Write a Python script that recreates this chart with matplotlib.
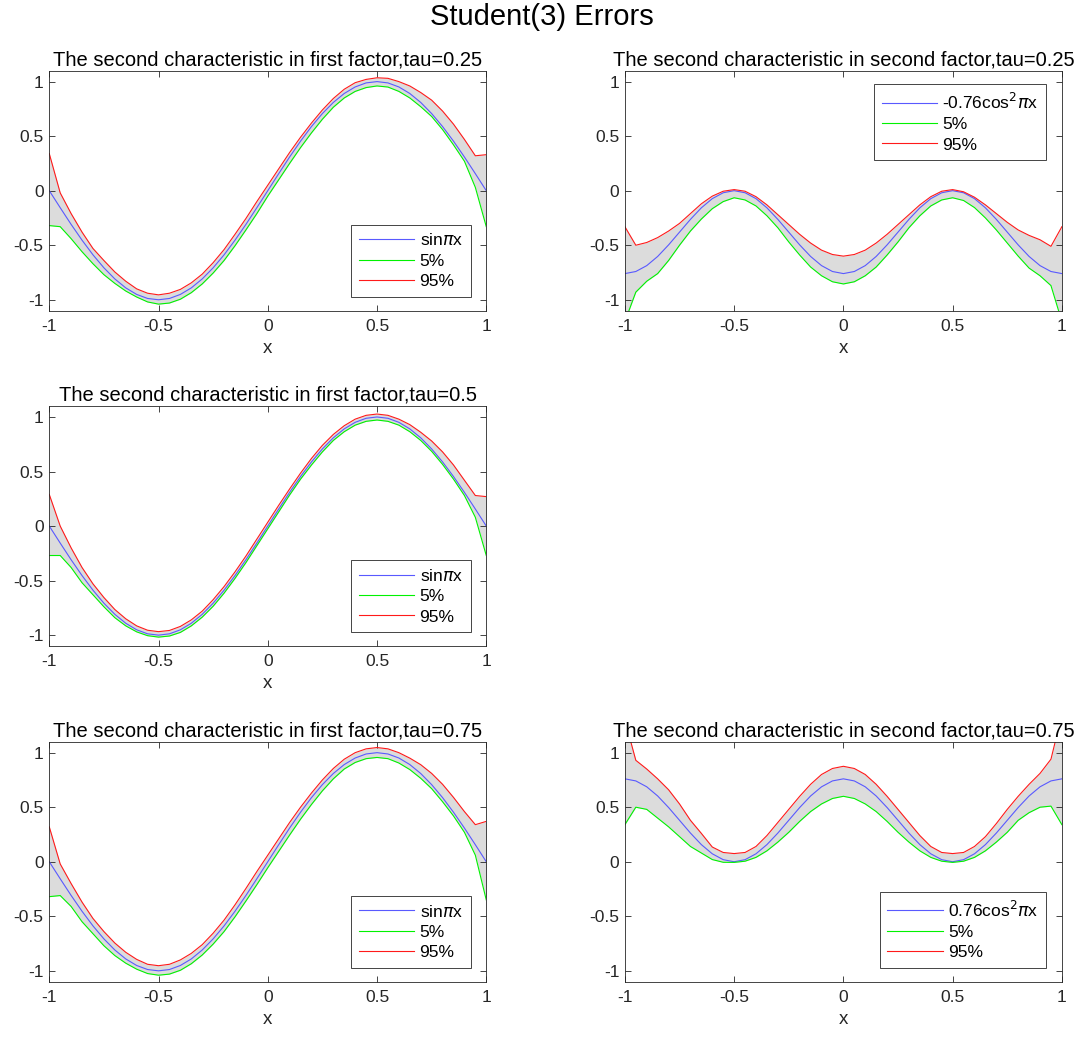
import matplotlib.pyplot as plt
import numpy as np

plt.rcParams['font.family'] = ['Liberation Sans', 'DejaVu Sans']
plt.rcParams['mathtext.fontset'] = 'dejavusans'

# grid of x values (step 0.05)
x = np.linspace(-1, 1, 41)

# first factor: true curve sin(pi x)
sin_true = [0, -0.156, -0.309, -0.454, -0.588, -0.707, -0.809, -0.891, -0.951, -0.988,
            -1.0, -0.988, -0.951, -0.891, -0.809, -0.707, -0.588, -0.454, -0.309, -0.156,
            0, 0.156, 0.309, 0.454, 0.588, 0.707, 0.809, 0.891, 0.951, 0.988,
            1.0, 0.988, 0.951, 0.891, 0.809, 0.707, 0.588, 0.454, 0.309, 0.156, 0]

# tau = 0.25, first factor
f1_q05 = [-0.32, -0.33, -0.44, -0.56, -0.67, -0.77, -0.85, -0.92, -0.975, -1.02,
          -1.04, -1.03, -0.995, -0.935, -0.855, -0.755, -0.64, -0.505, -0.36, -0.21,
          -0.05, 0.10, 0.25, 0.395, 0.53, 0.655, 0.765, 0.85, 0.91, 0.945,
          0.96, 0.95, 0.91, 0.85, 0.77, 0.68, 0.56, 0.42, 0.27, 0.03, -0.33]
f1_q95 = [0.34, -0.02, -0.21, -0.38, -0.53, -0.64, -0.745, -0.83, -0.90, -0.94,
          -0.955, -0.94, -0.905, -0.845, -0.765, -0.66, -0.54, -0.40, -0.255, -0.10,
          0.05, 0.20, 0.35, 0.49, 0.62, 0.74, 0.845, 0.93, 0.99, 1.02,
          1.035, 1.03, 1.0, 0.96, 0.9, 0.83, 0.73, 0.61, 0.47, 0.32, 0.33]

# tau = 0.5, first factor
f3_q05 = [-0.27, -0.27, -0.38, -0.52, -0.63, -0.74, -0.84, -0.915, -0.97, -1.005,
          -1.018, -1.008, -0.975, -0.915, -0.835, -0.735, -0.615, -0.48, -0.335, -0.18,
          -0.025, 0.13, 0.285, 0.43, 0.56, 0.68, 0.785, 0.865, 0.925, 0.96,
          0.972, 0.96, 0.925, 0.865, 0.785, 0.685, 0.565, 0.43, 0.28, 0.08, -0.27]
f3_q95 = [0.29, 0.0, -0.2, -0.38, -0.53, -0.655, -0.765, -0.85, -0.915, -0.955,
          -0.968, -0.957, -0.92, -0.86, -0.78, -0.675, -0.555, -0.42, -0.275, -0.12,
          0.035, 0.19, 0.34, 0.485, 0.62, 0.74, 0.84, 0.92, 0.98, 1.015,
          1.027, 1.015, 0.98, 0.93, 0.86, 0.78, 0.68, 0.56, 0.42, 0.28, 0.27]

# tau = 0.75, first factor
f5_q05 = [-0.32, -0.31, -0.41, -0.55, -0.66, -0.77, -0.86, -0.93, -0.985, -1.025,
          -1.04, -1.03, -0.995, -0.935, -0.855, -0.755, -0.64, -0.505, -0.36, -0.21,
          -0.055, 0.095, 0.245, 0.39, 0.525, 0.65, 0.76, 0.85, 0.91, 0.945,
          0.956, 0.945, 0.905, 0.845, 0.765, 0.67, 0.55, 0.42, 0.27, 0.06, -0.35]
f5_q95 = [0.32, -0.02, -0.2, -0.37, -0.52, -0.64, -0.745, -0.83, -0.895, -0.94,
          -0.953, -0.94, -0.9, -0.84, -0.76, -0.655, -0.535, -0.395, -0.245, -0.09,
          0.06, 0.21, 0.36, 0.5, 0.63, 0.75, 0.855, 0.94, 1.0, 1.035,
          1.047, 1.035, 1.0, 0.95, 0.89, 0.81, 0.71, 0.59, 0.46, 0.34, 0.37]

# second factor: true curves -0.76cos^2(pi x) and 0.76cos^2(pi x)
cos_neg = [-0.76, -0.741, -0.687, -0.603, -0.497, -0.38, -0.263, -0.157, -0.073, -0.019,
           0, -0.019, -0.073, -0.157, -0.263, -0.38, -0.497, -0.603, -0.687, -0.741,
           -0.76, -0.741, -0.687, -0.603, -0.497, -0.38, -0.263, -0.157, -0.073, -0.019,
           0, -0.019, -0.073, -0.157, -0.263, -0.38, -0.497, -0.603, -0.687, -0.741, -0.76]
cos_pos = [0.76, 0.741, 0.687, 0.603, 0.497, 0.38, 0.263, 0.157, 0.073, 0.019,
           0, 0.019, 0.073, 0.157, 0.263, 0.38, 0.497, 0.603, 0.687, 0.741,
           0.76, 0.741, 0.687, 0.603, 0.497, 0.38, 0.263, 0.157, 0.073, 0.019,
           0, 0.019, 0.073, 0.157, 0.263, 0.38, 0.497, 0.603, 0.687, 0.741, 0.76]

# tau = 0.25, second factor
f2_q05 = [-1.2, -0.93, -0.83, -0.76, -0.64, -0.50, -0.37, -0.26, -0.165, -0.10,
          -0.065, -0.085, -0.14, -0.23, -0.34, -0.47, -0.59, -0.70, -0.78, -0.835,
          -0.855, -0.835, -0.78, -0.70, -0.59, -0.47, -0.34, -0.23, -0.14, -0.085,
          -0.065, -0.09, -0.155, -0.25, -0.36, -0.48, -0.60, -0.71, -0.78, -0.87, -1.2]
f2_q95 = [-0.33, -0.50, -0.475, -0.43, -0.37, -0.30, -0.21, -0.12, -0.05, -0.005,
          0.01, -0.005, -0.055, -0.13, -0.22, -0.31, -0.40, -0.48, -0.545, -0.585,
          -0.60, -0.585, -0.545, -0.48, -0.40, -0.31, -0.22, -0.13, -0.055, -0.005,
          0.01, -0.01, -0.06, -0.13, -0.21, -0.29, -0.36, -0.41, -0.45, -0.51, -0.33]

# tau = 0.75, second factor
f6_q05 = [0.34, 0.50, 0.48, 0.40, 0.32, 0.23, 0.14, 0.08, 0.02, -0.005,
          -0.006, 0.005, 0.04, 0.10, 0.18, 0.27, 0.37, 0.46, 0.53, 0.58,
          0.60, 0.58, 0.53, 0.46, 0.37, 0.27, 0.18, 0.10, 0.04, 0.005,
          -0.006, 0.005, 0.04, 0.10, 0.18, 0.27, 0.38, 0.45, 0.50, 0.51, 0.34]
f6_q95 = [1.3, 0.93, 0.85, 0.76, 0.66, 0.53, 0.38, 0.26, 0.135, 0.085,
          0.075, 0.085, 0.14, 0.24, 0.36, 0.48, 0.60, 0.71, 0.80, 0.855,
          0.875, 0.855, 0.80, 0.71, 0.60, 0.48, 0.36, 0.24, 0.14, 0.085,
          0.075, 0.085, 0.14, 0.23, 0.35, 0.48, 0.60, 0.71, 0.81, 0.94, 1.35]

titles = ['The second characteristic in first factor,tau=0.25',
          'The second characteristic in second factor,tau=0.25',
          'The second characteristic in first factor,tau=0.5',
          'The second characteristic in first factor,tau=0.75',
          'The second characteristic in second factor,tau=0.75']
labels = [r'sin$\pi$x', r'-0.76cos$^2$$\pi$x', r'sin$\pi$x', r'sin$\pi$x',
          r'0.76cos$^2$$\pi$x']

axc = (0.15, 0.15, 0.15)
fig = plt.figure(figsize=(10.83, 10.38), dpi=100)
fig.suptitle('Student(3) Errors', fontsize=21, y=0.984, va='center')

W, H = 0.4035, 0.2312
left_x, right_x = 0.0455, 0.577
rows = [0.7007, 0.3776, 0.0542]

panels = [
    (left_x, rows[0], sin_true, f1_q05, f1_q95, titles[0], labels[0], 'lower right'),
    (right_x, rows[0], cos_neg, f2_q05, f2_q95, titles[1], labels[1], 'upper right'),
    (left_x, rows[1], sin_true, f3_q05, f3_q95, titles[2], labels[2], 'lower right'),
    (left_x, rows[2], sin_true, f5_q05, f5_q95, titles[3], labels[3], 'lower right'),
    (right_x, rows[2], cos_pos, f6_q05, f6_q95, titles[4], labels[4], 'lower right'),
]

for (lx, by, true, lo, hi, title, lab, loc) in panels:
    ax = fig.add_axes([lx, by, W, H])
    ax.fill_between(x, lo, hi, color='#dcdcdc', linewidth=0)
    ax.plot(x, true, color=(0.35, 0.35, 1.0), lw=0.8, label=lab)
    ax.plot(x, lo, color=(0.0, 0.95, 0.0), lw=0.8, label='5%')
    ax.plot(x, hi, color=(1.0, 0.1, 0.1), lw=0.8, label='95%')
    ax.set_xlim(-1, 1)
    ax.set_ylim(-1.1, 1.1)
    ax.set_xticks([-1, -0.5, 0, 0.5, 1])
    ax.set_xticklabels(['-1', '-0.5', '0', '0.5', '1'])
    ax.set_yticks([-1, -0.5, 0, 0.5, 1])
    ax.set_yticklabels(['-1', '-0.5', '0', '0.5', '1'])
    ax.tick_params(direction='in', length=4, width=0.6, top=True, right=True,
                   labelsize=12.5, colors=axc)
    ax.tick_params(axis='x', pad=6)
    ax.tick_params(axis='y', pad=4)
    for s in ax.spines.values():
        s.set_color(axc)
        s.set_linewidth(0.6)
    ax.set_title(title, fontsize=14.5, pad=4)
    ax.set_xlabel('x', fontsize=13.5, color=axc, labelpad=4)
    if loc == 'upper right':
        anchor = (0.964, 0.945)
    else:
        anchor = (0.964, 0.057)
    leg = ax.legend(loc=loc, bbox_to_anchor=anchor, borderaxespad=0, fontsize=12.5,
                    handlelength=3.2, handletextpad=0.3, labelspacing=0.3,
                    fancybox=False, framealpha=1, edgecolor=axc,
                    borderpad=0.45)
    leg.get_frame().set_linewidth(0.6)

plt.savefig('out.png', dpi=100)
